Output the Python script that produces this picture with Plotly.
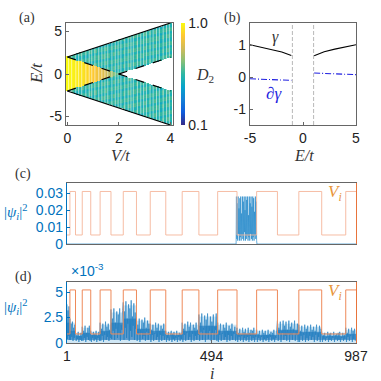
import numpy as np
import plotly.graph_objects as go

W = H = 381
SERIF = "Liberation Serif"
SANS = "Liberation Sans"
BLUE = "#0072BD"
ORANGE = "#E8743B"
GREY = "#666666"

# Panel (a)
V_columns = [0.0,0.1,0.2,0.3,0.4,0.5,0.6,0.7,0.8,0.9,1.0,1.1,1.2,1.3,1.4,1.5,1.6,1.7,1.8,1.9,2.0,
             2.1,2.2,2.3,2.4,2.5,2.6,2.7,2.8,2.9,3.0,3.1,3.2,3.3,3.4,3.5,3.6,3.7,3.8,3.9,4.0]
D2_outer = [0.53,0.52,0.54,0.53,0.51,0.54,0.55,0.52,0.53,0.54,0.52,0.55,0.53,0.51,0.54,0.55,0.53,0.52,0.55,0.53,0.54,
            0.52,0.54,0.53,0.55,0.52,0.54,0.55,0.53,0.52,0.55,0.53,0.54,0.52,0.55,0.53,0.51,0.54,0.53,0.55,0.53]
D2_inner = [1.0,0.99,0.98,0.97,0.97,0.95,0.95,0.93,0.92,0.90,0.89,0.87,0.85,0.83,0.81,0.78,0.74,0.70,0.66,0.62,0.58,
            0.53,0.53,0.53,0.53,0.53,0.53,0.53,0.53,0.53,0.53,0.53,0.53,0.53,0.53,0.53,0.53,0.53,0.53,0.53,0.53]
E_rows = [-6.0+0.125*k for k in range(97)]
row_ripple = [0.02,-0.03,0.04,0.0,-0.02,0.05,-0.04,0.02,0.03,-0.02,0.0,-0.03,0.05]
gap_V = [0.05,0.17,0.33,0.44,0.56,0.72,0.85,0.95,1.07,1.22,1.34,1.46,1.57,1.73,1.86,1.97,2.08,2.23,2.36,2.47,
         2.56,2.72,2.85,2.96,3.07,3.21,3.33,3.46,3.57,3.72,3.85,3.96]
edge_V = [0, 4]
edge_top = [2, 6]
edge_bottom = [-2, -6]
edge_inner_down = [2, -2]
edge_inner_up = [-2, 2]

# Panel (b)
E_left = [-5, -4, -3, -2, -1.1]
gamma_left = [1.02, 0.95, 0.87, 0.79, 0.68]
E_right = [1.05, 2, 3, 4, 5]
gamma_right = [0.67, 0.80, 0.88, 0.95, 1.02]
dgamma_left = [-0.05, -0.06, -0.07, -0.09, -0.10]
dgamma_right = [0.13, 0.12, 0.10, 0.09, 0.08]

# Potential edges, index i
V_edges = [1, 11, 30, 53, 82, 114, 151, 193, 238, 285, 338, 394, 451, 515, 581, 648, 719, 792, 870, 952, 987]
V_levels = [0, 1, 0, 1, 0, 1, 0, 1, 0, 1, 0, 1, 0, 1, 0, 1, 0, 1, 0, 1]

# Panel (c)
psi_c_i = [1, 578, 579]
psi_c_tail = [648, 987]
psi_c_core = [0.028,0.003,0.024,0.002,0.028,0.006,0.021,0.002,0.027,0.004,0.028,0.002,0.018,0.005,0.028,0.003,
              0.025,0.002,0.028,0.007,0.020,0.002,0.028,0.003,0.026,0.005,0.028,0.002,0.017,0.004,0.028,0.002,
              0.024,0.006,0.028,0.003,0.022,0.002,0.028,0.004,0.027,0.002,0.019,0.005,0.028,0.003,0.025,0.002]

# Panel (d), |psi|^2 in 1e-3, one list per potential segment
psi_d_segments = [
 [3.8,0.4,3.2,0.7,3.6,0.3],
 [2.4,0.3,1.9,0.6,2.1,0.2,1.5,0.5,1.8],
 [1.0,0.2,0.8,0.4,1.1,0.1,0.7,0.3,1.0,0.2],
 [1.6,0.2,1.2,0.5,1.7,0.1,1.0,0.6,1.5,0.3,1.7,0.2],
 [1.2,0.1,0.8,0.5,1.1,0.2,0.9,0.4,1.2,0.1,0.7,0.5,1.1,0.2],
 [2.0,0.2,1.4,0.7,1.9,0.1,1.1,0.8,2.1,0.3,1.6,0.6,1.9,0.2,1.3,0.5],
 [3.3,0.4,2.4,1.2,3.4,0.3,2.0,1.4,3.1,0.5,2.8,1.0,3.4,0.2,1.8,1.3,3.2],
 [4.0,0.3,3.1,1.5,4.1,0.5,2.4,1.9,3.8,0.2,3.4,1.2,4.2,0.6,2.6,1.7,3.9,0.3,3.0,1.4],
 [2.5,0.2,1.8,0.9,2.4,0.1,1.3,1.0,2.3,0.4,2.0,0.7,2.5,0.2,1.5,1.1,2.2,0.3,1.9,0.8],
 [1.9,0.1,1.3,0.8,1.8,0.2,1.0,0.9,2.0,0.3,1.5,0.6,1.9,0.1,1.2,0.8,1.7,0.2,1.4,0.7,1.9,0.3,1.1],
 [1.2,0.1,0.8,0.5,1.1,0.2,0.6,0.6,1.2,0.1,0.9,0.4,1.1,0.2,0.7,0.5,1.2,0.1,0.8,0.6,1.0,0.2,0.9,0.4],
 [2.0,0.1,1.4,0.8,1.9,0.2,1.1,1.0,2.1,0.3,1.6,0.6,2.0,0.1,1.2,0.9,1.8,0.2,1.5,0.7,2.0,0.3,1.3,0.8],
 [2.8,0.2,2.0,1.1,2.9,0.3,1.5,1.3,2.7,0.1,2.3,0.9,2.9,0.4,1.7,1.2,2.6,0.2,2.1,1.0,2.8,0.3,1.6,1.3,2.9,0.2],
 [2.0,0.1,1.3,0.8,1.9,0.2,1.0,0.9,1.8,0.3,1.5,0.6,2.0,0.1,1.2,0.8,1.7,0.2,1.4,0.7,1.9,0.3,1.1,0.9,1.6,0.2,1.5],
 [1.5,0.1,1.0,0.6,1.4,0.2,0.8,0.7,1.5,0.1,1.1,0.5,1.4,0.2,0.9,0.6,1.5,0.1,1.0,0.7,1.3,0.2,1.2,0.5,1.5,0.1,0.8,0.6],
 [1.3,0.1,0.9,0.5,1.2,0.2,0.7,0.6,1.3,0.1,1.0,0.4,1.2,0.2,0.8,0.5,1.3,0.1,0.9,0.6,1.1,0.2,1.0,0.4,1.3,0.1,0.7,0.5,1.2],
 [2.2,0.2,1.5,0.9,2.1,0.1,1.2,1.0,2.2,0.3,1.7,0.7,2.1,0.2,1.3,0.9,2.2,0.1,1.6,0.8,2.0,0.3,1.4,1.0,2.2,0.2,1.2,0.8,1.9,0.1],
 [1.8,0.1,1.2,0.7,1.7,0.2,1.0,0.8,1.8,0.1,1.4,0.5,1.7,0.2,1.1,0.7,1.8,0.3,1.3,0.6,1.6,0.1,1.2,0.8,1.8,0.2,1.0,0.6,1.7,0.1,1.4],
 [1.1,0.1,0.8,0.4,1.0,0.2,0.6,0.5,1.1,0.1,0.9,0.3,1.0,0.2,0.7,0.5,1.1,0.1,0.8,0.4,0.9,0.2,1.0,0.3,1.1,0.1,0.6,0.5,1.0,0.2,0.8,0.4],
 [1.5,0.1,1.0,0.6,1.4,0.2,0.8,0.7,1.5,0.1,1.2,0.4,1.4,0.2],
]
psi_d_core = [2.0,1.2,0.7,1.0,0.8,1.2,2.0,2.4,1.4,1.2,0.8,1.2,1.7,1.2,0.9,0.8,1.3,1.1,0.7,0.9]
psi_d_envelope = [3.2,2.0,1.0,1.5,1.1,1.8,3.0,3.7,2.2,1.8,1.1,1.8,2.6,1.8,1.3,1.2,1.9,1.6,1.0,1.3]

x_panel_a = (66, 173); y_panel_a = (23, 125)
x_panel_b = (250, 356); y_panel_b = (23, 125)
x_wide = (67, 356); y_c = (183, 244); y_d = (282, 343)

def dom_x(p):
    return [p[0] / W, p[1] / W]
def dom_y(p):
    return [1 - p[1] / H, 1 - p[0] / H]

parula = [[0,"#352a87"],[0.125,"#0f5cdd"],[0.25,"#1481d6"],[0.375,"#06a4ca"],[0.5,"#2eb7a4"],
          [0.625,"#87bf77"],[0.75,"#d1bb59"],[0.875,"#fec832"],[1,"#f9fb0e"]]

fig = go.Figure()

# (a) heat map assembled from column lists
z = []
for r, e in enumerate(E_rows):
    row = []
    for c, v in enumerate(V_columns):
        upper = v - 2 <= e <= v + 2
        lower = -v - 2 <= e <= -v + 2
        rip = row_ripple[(r * 3 + c * 5) % len(row_ripple)]
        if upper and lower:
            row.append(D2_inner[c])
        elif upper or lower:
            row.append(D2_outer[c] + rip)
        else:
            row.append(None)
    z.append(row)
fig.add_trace(go.Heatmap(x=V_columns, y=E_rows, z=z, zmin=0.1, zmax=1.0, colorscale=parula, xgap=0,
    hoverongaps=False, xaxis="x", yaxis="y",
    colorbar=dict(x=181/W, xanchor="left", xpad=0, ypad=0, y=1-74/H, yanchor="middle", len=102/H, lenmode="fraction",
                  thickness=4, thicknessmode="pixels", outlinewidth=0, tickvals=[0.1,1.0], ticktext=["0.1","1.0"],
                  ticks="", tickfont=dict(family=SANS, size=14, color="#222"))))
gap_x, gap_y = [], []
for g in gap_V:
    gap_x += [g, g, None]
    gap_y += [-6, 6, None]
fig.add_trace(go.Scatter(x=gap_x, y=gap_y, mode="lines", line=dict(color="rgba(255,255,255,0.7)", width=0.8), xaxis="x", yaxis="y"))
for ys, dash in ((edge_top,"solid"),(edge_bottom,"solid"),(edge_inner_down,"dash"),(edge_inner_up,"dash")):
    fig.add_trace(go.Scatter(x=edge_V, y=ys, mode="lines", line=dict(color="black", width=1.2, dash=dash), xaxis="x", yaxis="y"))

# (b)
for xs, ys in ((E_left, gamma_left), (E_right, gamma_right)):
    fig.add_trace(go.Scatter(x=xs, y=ys, mode="lines", line=dict(color="black", width=1.1), xaxis="x2", yaxis="y2"))
for xs, ys in ((E_left, dgamma_left), (E_right, dgamma_right)):
    fig.add_trace(go.Scatter(x=xs, y=ys, mode="lines", line=dict(color="#1f1fe0", width=1.1, dash="6px,2px,1px,2px"), xaxis="x2", yaxis="y2"))
for xv in (-1, 1):
    fig.add_trace(go.Scatter(x=[xv, xv], y=[-1.5, 1.7], mode="lines", line=dict(color="#b0b0b0", width=0.9, dash="4px,2px"), xaxis="x2", yaxis="y2"))

# (c)
core_x = np.linspace(psi_c_i[2], psi_c_tail[0], len(psi_c_core))
psi_c_x = [psi_c_i[0], psi_c_i[1]] + list(core_x) + [psi_c_tail[0] + 1, psi_c_tail[1]]
psi_c_y = [0, 0] + psi_c_core + [0, 0]
fig.add_trace(go.Scatter(x=psi_c_x, y=psi_c_y, mode="lines", line=dict(color="#2b8ccb", width=0.7), xaxis="x3", yaxis="y3"))
V_x = V_edges
V_y = V_levels + [V_levels[-1]]
fig.add_trace(go.Scatter(x=V_x, y=V_y, mode="lines", line=dict(color="#F5B59B", width=0.9, shape="hv"), xaxis="x3", yaxis="y5"))

# (d)
seg_mid = [(V_edges[k] + V_edges[k+1]) / 2 for k in range(len(psi_d_core))]
seg_width = [V_edges[k+1] - V_edges[k] for k in range(len(psi_d_core))]
fig.add_trace(go.Bar(x=seg_mid, y=psi_d_envelope, width=seg_width, marker=dict(color="rgba(120,185,225,0.35)", line=dict(width=0)), xaxis="x4", yaxis="y4"))
fig.add_trace(go.Bar(x=seg_mid, y=[c - 0.3 for c in psi_d_core], base=0.3, width=seg_width, marker=dict(color="rgba(15,105,180,0.6)", line=dict(width=0)), xaxis="x4", yaxis="y4"))
psi_d_x, psi_d_y = [], []
for k, seg in enumerate(psi_d_segments):
    psi_d_x += list(np.linspace(V_edges[k], V_edges[k+1], len(seg), endpoint=False))
    psi_d_y += seg
fig.add_trace(go.Scatter(x=psi_d_x, y=psi_d_y, mode="lines", line=dict(color="#1c7cc0", width=0.8), opacity=0.85, xaxis="x4", yaxis="y4"))
fig.add_trace(go.Scatter(x=V_x, y=V_y, mode="lines", line=dict(color="#EE8A5A", width=1, shape="hv"), xaxis="x4", yaxis="y6"))

tick = dict(family=SANS, size=14, color="#222")
box = dict(showline=True, linecolor=GREY, linewidth=1.3, mirror=True, ticks="inside", ticklen=3, tickcolor=GREY,
           showgrid=False, zeroline=False, tickfont=tick)
wide_x = dict(showline=True, linecolor=GREY, linewidth=1.3, mirror=True, showgrid=False, zeroline=False, tickfont=tick, range=[1, 987])

fig.update_layout(
    width=W, height=H, margin=dict(l=0, r=0, t=0, b=0, autoexpand=False), showlegend=False, barmode="overlay",
    paper_bgcolor="white", plot_bgcolor="white",
    xaxis=dict(box, domain=dom_x(x_panel_a), range=[-0.05, 4.1], tickvals=[0,2,4], anchor="y"),
    yaxis=dict(box, domain=dom_y(y_panel_a), range=[-6, 6], tickvals=[-5,0,5], ticktext=["-5","0","5"], anchor="x"),
    xaxis2=dict(box, domain=dom_x(x_panel_b), range=[-5, 5], tickvals=[-5,0,5], ticktext=["-5","0","5"], anchor="y2"),
    yaxis2=dict(box, domain=dom_y(y_panel_b), range=[-1.5, 1.7], tickvals=[-1,0,1], ticktext=["-1","0","1"], anchor="x2"),
    xaxis3=dict(wide_x, domain=dom_x(x_wide), showticklabels=False, ticks="", anchor="y3"),
    yaxis3=dict(domain=dom_y(y_c), range=[0, 0.036], tickvals=[0,0.01,0.02,0.03], ticktext=["0","0.01","0.02","0.03"],
                showline=True, linecolor=BLUE, linewidth=1.2, ticks="inside", ticklen=3, tickcolor=BLUE,
                showgrid=False, zeroline=False, tickfont=dict(family=SANS, size=14, color=BLUE), anchor="x3"),
    yaxis5=dict(domain=dom_y(y_c), range=[-0.207, 1.195], overlaying="y3", side="right", showline=True, linecolor=ORANGE,
                linewidth=1.2, showticklabels=False, ticks="", showgrid=False, zeroline=False, anchor="x3"),
    xaxis4=dict(wide_x, domain=dom_x(x_wide), tickvals=[1,494,987], ticks="inside", ticklen=3, tickcolor=GREY, anchor="y4"),
    yaxis4=dict(domain=dom_y(y_d), range=[0, 6], tickvals=[0,2.5,5], ticktext=["0","2.5","5"],
                showline=True, linecolor=BLUE, linewidth=1.2, ticks="inside", ticklen=3, tickcolor=BLUE,
                showgrid=False, zeroline=False, tickfont=dict(family=SANS, size=14, color=BLUE), anchor="x4"),
    yaxis6=dict(domain=dom_y(y_d), range=[-0.205, 1.18], overlaying="y4", side="right", showline=True, linecolor=ORANGE,
                linewidth=1.2, showticklabels=False, ticks="", showgrid=False, zeroline=False, anchor="x4"),
)

def note(px, py, text, size=14, color="#333", family=SERIF, angle=0):
    fig.add_annotation(x=px / W, y=1 - py / H, xref="paper", yref="paper", text=text, showarrow=False,
                       xanchor="center", yanchor="middle", textangle=angle, font=dict(family=family, size=size, color=color))

note(27, 18, "(a)", 14); note(232, 18, "(b)", 14); note(23, 174, "(c)", 14); note(23, 277, "(d)", 14)
note(120, 155, "<i>V/t</i>", 16); note(304, 155, "<i>E/t</i>", 16); note(212, 373, "<i>i</i>", 16)
note(37, 73, "<i>E/t</i>", 17, angle=-90); note(205, 75, "<i>D</i><sub>2</sub>", 16)
note(275, 37, "<i>γ</i>", 16); note(274, 93, "<i>∂γ</i>", 17, color="#1f1fe0")
note(335, 193, "<i>V<sub>i</sub></i>", 17, color="#E8963B"); note(335, 292, "<i>V<sub>i</sub></i>", 17, color="#E8963B")
note(16, 212, "|<i>ψ<sub>i</sub></i>|<sup>2</sup>", 15, color=BLUE); note(16, 307, "|<i>ψ<sub>i</sub></i>|<sup>2</sup>", 15, color=BLUE)
note(87, 270, "×10<sup>-3</sup>", 14, color=BLUE, family=SANS)

fig.write_html("out.html", config={"displayModeBar": False}, post_script="document.body.style.margin='0';")
